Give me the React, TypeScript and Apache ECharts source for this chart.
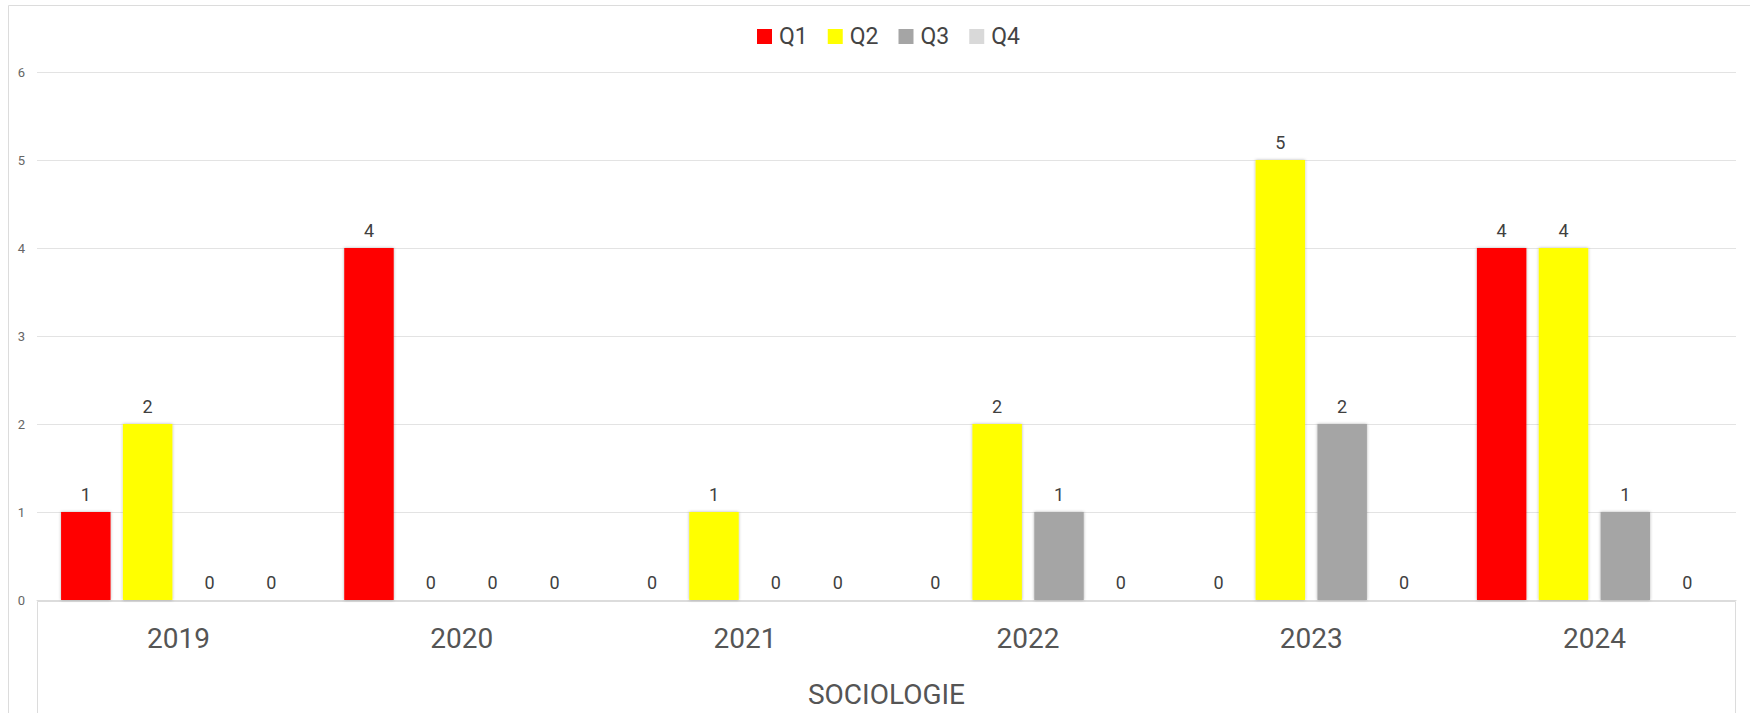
import React, { useEffect, useRef } from "react";
import * as echarts from "echarts";

const years = ["2019", "2020", "2021", "2022", "2023", "2024"];
const seriesNames = ["Q1", "Q2", "Q3", "Q4"];
const q1 = [1, 4, 0, 0, 0, 4];
const q2 = [2, 0, 1, 2, 5, 4];
const q3 = [0, 0, 0, 1, 2, 1];
const q4 = [0, 0, 0, 0, 0, 0];
const colors = ["#ff0000", "#ffff00", "#a5a5a5", "#d9d9d9"];
const axisTitle = "SOCIOLOGIE";

export default function App() {
  const ref = useRef<HTMLDivElement>(null);
  useEffect(() => {
    if (!ref.current) return;
    const chart = echarts.init(ref.current, null, { renderer: "svg" });
    const values = [q1, q2, q3, q4];
    chart.setOption({
      animation: false,
      backgroundColor: "#ffffff",
      textStyle: { fontFamily: "Roboto" },
      legend: {
        top: 20,
        left: 752,
        itemWidth: 15,
        itemHeight: 15,
        itemGap: 20,
        icon: "rect",
        textStyle: { fontSize: 23, color: "#444", fontFamily: "Roboto", padding: [0, 0, 0, 2] },
        data: seriesNames,
      },
      grid: { left: 37, right: 14, top: 72, bottom: 112, containLabel: false },
      xAxis: {
        type: "category",
        data: years,
        axisLine: { show: true, lineStyle: { color: "#dcdcdc" } },
        axisTick: { show: false },
        axisLabel: { fontSize: 28, color: "#555", margin: 24, fontFamily: "Roboto" },
        name: axisTitle,
        nameLocation: "middle",
        nameGap: 80,
        nameTextStyle: { fontSize: 28, color: "#555", fontFamily: "Roboto" },
      },
      yAxis: {
        type: "value",
        min: 0,
        max: 6,
        interval: 1,
        axisLine: { show: false },
        axisTick: { show: false },
        axisLabel: { fontSize: 13, color: "#666", margin: 12 },
        splitLine: { lineStyle: { color: "#e3e3e3", width: 1 } },
      },
      graphic: [
        {
          type: "rect",
          shape: { x: 8.5, y: 5.5, width: 1760, height: 720 },
          style: { fill: "none", stroke: "#dcdcdc", lineWidth: 1 },
          z: 0,
        },
        {
          type: "rect",
          shape: { x: 37.5, y: 601.5, width: 1698, height: 130 },
          style: { fill: "none", stroke: "#dcdcdc", lineWidth: 1 },
          z: 0,
        },
      ],
      series: seriesNames.map((name, i) => ({
        name,
        type: "bar",
        data: values[i],
        barCategoryGap: "17%",
        barGap: "25%",
        itemStyle: {
          color: colors[i],
          shadowColor: "rgba(0,0,0,0.3)",
          shadowBlur: 3,
        },
        label: {
          show: true,
          position: "top",
          distance: 9,
          fontSize: 18,
          color: "#404040",
          fontFamily: "Roboto",
        },
      })),
    });
    return () => chart.dispose();
  }, []);
  return (
    <div
      ref={ref}
      style={{ position: "fixed", left: 0, top: 0, width: 1750, height: 713 }}
    />
  );
}
